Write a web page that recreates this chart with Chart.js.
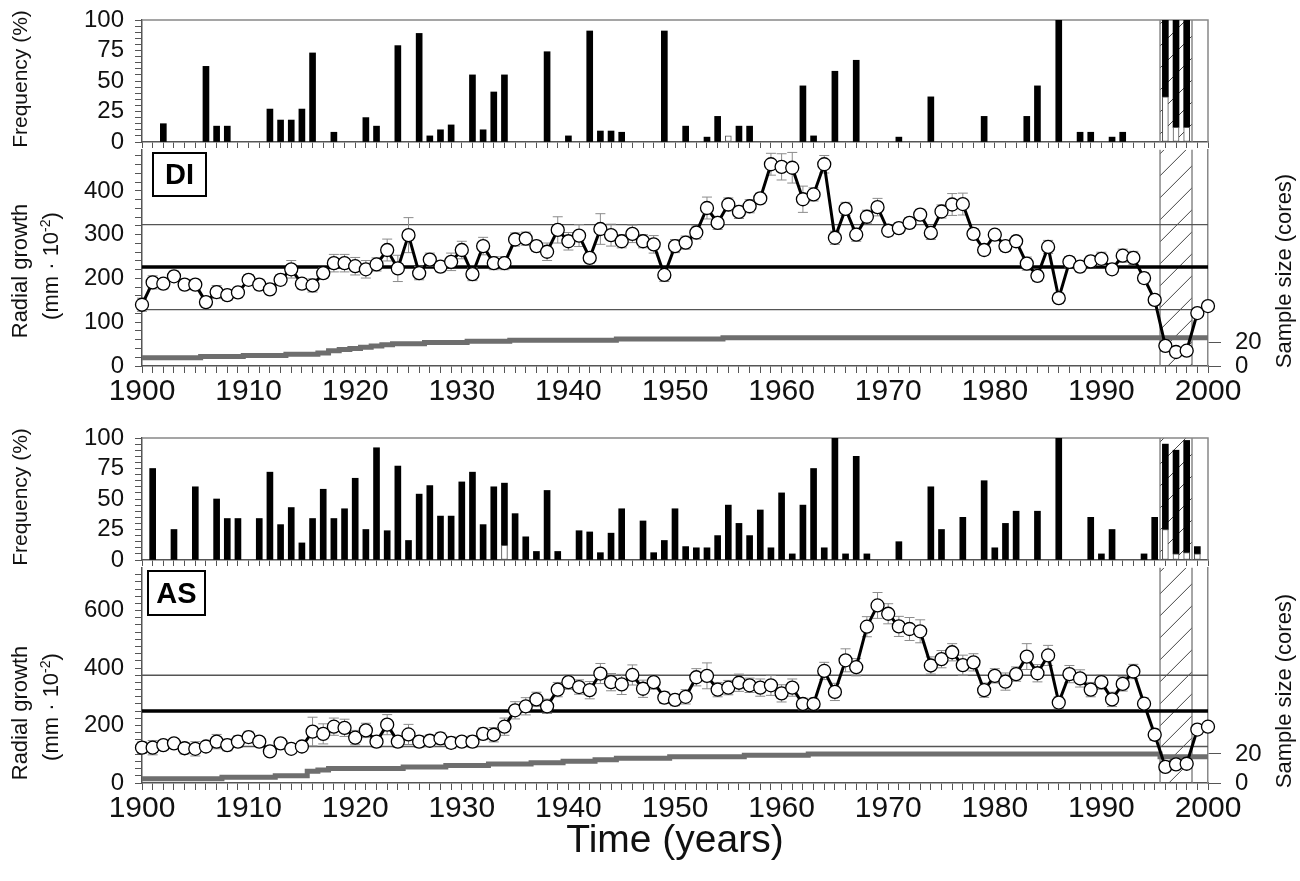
<!DOCTYPE html>
<html>
<head>
<meta charset="utf-8">
<script src="https://cdn.jsdelivr.net/npm/chart.js@4.4.1/dist/chart.umd.min.js"></script>
<style>
html,body{margin:0;padding:0;background:#fff;}
body{width:1300px;height:881px;position:relative;overflow:hidden;font-family:"Liberation Sans",Arial,Helvetica,sans-serif;color:#111;}
canvas{position:absolute;left:0;}
.yt{position:absolute;white-space:nowrap;font-size:21px;line-height:1;transform:translate(-50%,-50%) rotate(-90deg);}
.yt sup{font-size:14px;vertical-align:8px;line-height:0;}
.box{position:absolute;border:2px solid #000;font-weight:bold;font-size:29px;text-align:center;box-sizing:border-box;color:#000;}
.xt{position:absolute;white-space:nowrap;font-size:39px;line-height:1;transform:translate(-50%,-50%);}
</style>
</head>
<body>
<canvas id="c1" width="1300" height="150" style="top:0px"></canvas>
<canvas id="c2" width="1300" height="268" style="top:142px"></canvas>
<canvas id="c3" width="1300" height="150" style="top:418px"></canvas>
<canvas id="c4" width="1300" height="321" style="top:560px"></canvas>

<div class="yt" style="left:19px;top:79px">Frequency (%)</div>
<div class="yt" style="left:20px;top:271px;font-size:22px">Radial growth</div>
<div class="yt" style="left:51px;top:266px;font-size:22px">(mm · 10<sup>-2</sup>)</div>
<div class="yt" style="left:1284px;top:271px;font-size:22px">Sample size (cores)</div>

<div class="yt" style="left:19px;top:497px">Frequency (%)</div>
<div class="yt" style="left:20px;top:713px;font-size:22px">Radial growth</div>
<div class="yt" style="left:51px;top:707px;font-size:22px">(mm · 10<sup>-2</sup>)</div>
<div class="yt" style="left:1284px;top:691px;font-size:22px">Sample size (cores)</div>

<div class="xt" style="left:675px;top:838px">Time (years)</div>

<div class="box" style="left:152px;top:152px;width:55px;height:45px;line-height:41px">DI</div>
<div class="box" style="left:147px;top:570px;width:59px;height:46px;line-height:42px">AS</div>

<script>
// ---------------- DATA ----------------
const years = [1900,1901,1902,1903,1904,1905,1906,1907,1908,1909,
1910,1911,1912,1913,1914,1915,1916,1917,1918,1919,
1920,1921,1922,1923,1924,1925,1926,1927,1928,1929,
1930,1931,1932,1933,1934,1935,1936,1937,1938,1939,
1940,1941,1942,1943,1944,1945,1946,1947,1948,1949,
1950,1951,1952,1953,1954,1955,1956,1957,1958,1959,
1960,1961,1962,1963,1964,1965,1966,1967,1968,1969,
1970,1971,1972,1973,1974,1975,1976,1977,1978,1979,
1980,1981,1982,1983,1984,1985,1986,1987,1988,1989,
1990,1991,1992,1993,1994,1995,1996,1997,1998,1999,
2000];

const xTickLabels = [1900,1910,1920,1930,1940,1950,1960,1970,1980,1990,2000];

// DI frequency (%): black and open (white) parts
const diFreqBlack = [0,0,15,0,0,0,62,13,13,0,
0,0,27,18,18,27,73,0,8,0,
0,20,13,0,79,0,89,5,10,14,
0,55,10,41,55,0,0,0,74,0,
5,0,91,9,9,8,0,0,0,91,
0,13,0,4,21,0,13,13,0,0,
0,0,46,5,0,58,0,67,0,0,
0,4,0,0,37,0,0,0,0,21,
0,0,0,21,46,0,100,0,8,8,
0,4,8,0,0,0,63,88,88,0,
0];
const diFreqWhite = [0,0,0,0,0,0,0,0,0,0,
0,0,0,0,0,0,0,0,0,0,
0,0,0,0,0,0,0,0,0,0,
0,0,0,0,0,0,0,0,0,0,
0,0,0,0,0,0,0,0,0,0,
0,0,0,0,0,5,0,0,0,0,
0,0,0,0,0,0,0,0,0,0,
0,0,0,0,0,0,0,0,0,0,
0,0,0,0,0,0,0,0,0,0,
0,0,0,0,0,0,37,12,12,0,
0];

// DI radial growth (mm·10^-2), error, sample size
const diGrowth = [140,191,188,205,186,186,146,169,162,168,
197,186,175,197,221,188,184,212,235,235,
228,221,232,265,223,299,212,243,227,238,
265,210,274,235,235,289,291,274,261,311,
285,298,247,313,299,285,302,285,278,208,
274,282,305,361,327,369,352,365,383,461,
455,453,381,392,461,293,359,300,341,363,
309,315,327,346,304,353,369,370,302,265,
300,274,285,234,206,272,155,238,227,239,
245,221,252,247,201,151,46,32,35,121,
137];
const diErr = [15,15,12,12,12,12,12,15,12,12,
12,12,12,12,20,12,15,12,20,20,
20,20,15,25,30,40,15,15,12,20,
20,15,20,15,15,15,15,12,20,30,
20,25,12,35,25,15,20,15,20,15,
15,15,15,25,15,15,15,15,12,25,
30,35,30,15,20,15,15,15,15,20,
12,12,12,12,15,15,25,25,12,12,
12,12,12,15,12,15,12,12,12,12,
15,12,15,15,12,12,8,8,8,10,
10];
const diCores = [7,7,7,7,7,7,8,8,8,8,
9,9,9,9,10,10,10,11,13,14,
15,16,17,18,19,19,19,20,20,20,
20,21,21,21,21,22,22,22,22,22,
22,22,22,22,22,23,23,23,23,23,
23,23,23,23,23,24,24,24,24,24,
24,24,24,24,24,24,24,24,24,24,
24,24,24,24,24,24,24,24,24,24,
24,24,24,24,24,24,24,24,24,24,
24,24,24,24,24,24,24,24,24,24,
24];
const diRefLines = [129, 226, 323]; // mean - SD, mean, mean + SD

// AS frequency (%)
const asFreqBlack = [0,75,0,25,0,60,0,50,34,34,
0,34,72,29,43,14,34,58,34,42,
67,25,92,24,77,16,54,61,36,36,
64,72,29,60,51,38,19,7,57,7,
0,24,23,6,22,42,0,32,6,16,
42,11,10,10,20,45,30,20,41,10,
55,5,45,75,10,100,5,85,5,0,
0,15,0,0,60,25,0,35,0,65,
10,30,40,0,40,0,100,0,0,35,
5,25,0,0,5,35,70,85,92,6,
0];
const asFreqWhite = [0,0,0,0,0,0,0,0,0,0,
0,0,0,0,0,0,0,0,0,0,
0,0,0,0,0,0,0,0,0,0,
0,0,0,0,12,0,0,0,0,0,
0,0,0,0,0,0,0,0,0,0,
0,0,0,0,0,0,0,0,0,0,
0,0,0,0,0,0,0,0,0,0,
0,0,0,0,0,0,0,0,0,0,
0,0,0,0,0,0,0,0,0,0,
0,0,0,0,0,0,25,5,6,5,
0];

// AS radial growth, error, sample size
const asGrowth = [123,123,132,138,121,119,127,144,132,144,
160,144,110,138,119,127,179,171,196,192,
158,183,144,203,144,169,144,147,155,140,
144,144,171,168,196,253,267,291,267,325,
351,334,323,381,351,343,376,328,351,297,
289,300,368,373,325,332,349,340,332,340,
312,332,275,275,390,317,427,403,544,618,
589,545,536,528,409,431,455,410,420,323,
373,353,379,440,382,444,280,379,364,325,
351,291,345,388,276,168,56,65,67,186,
196];
const asErr = [20,25,15,15,20,25,15,25,20,20,
20,15,15,15,15,15,50,35,30,30,
25,25,20,35,20,35,20,20,20,20,
15,20,20,25,30,30,30,25,25,25,
25,25,30,35,30,35,35,30,25,20,
20,25,30,45,25,25,30,25,30,35,
30,30,20,20,30,30,40,30,35,45,
35,35,40,40,30,30,30,35,30,25,
25,30,25,45,30,35,20,30,30,25,
25,25,25,25,20,20,10,10,10,15,
15];
const asCores = [3,3,3,3,3,3,3,3,4,4,
4,4,4,5,5,5,8,9,10,10,
10,10,10,10,10,11,11,11,11,12,
12,12,12,13,13,13,13,14,14,14,
15,15,15,16,16,17,17,17,17,17,
18,18,18,18,18,18,18,19,19,19,
19,19,19,20,20,20,20,20,20,20,
20,20,20,20,20,20,20,20,20,20,
20,20,20,20,20,20,20,20,20,20,
20,20,20,20,20,20,18,18,18,18,
18];
const asRefLines = [127, 251, 375];

const hatchSpan = [1995.5, 1998.5];   // shaded (hatched) years
const coreTicks = [0, 20];

// ---------------- HELPERS ----------------
Chart.defaults.font.family = '"Liberation Sans", Arial, Helvetica, sans-serif';
Chart.defaults.color = '#111';

const pts = (vals) => years.map((yr, i) => ({x: yr, y: vals[i]}));
const barPts = (vals) => years.map((yr, i) => ({x: yr, y: vals[i] > 0 ? vals[i] : null}));
const hline = (v) => [{x: years[0], y: v}, {x: years[years.length - 1], y: v}];
function noPad(s) { s.paddingTop = 0; s.paddingBottom = 0; s.paddingLeft = 0; s.paddingRight = 0; }

const decor = {
  id: 'decor',
  beforeDatasetsDraw(chart, args, opts) {
    const {ctx, chartArea: a, scales} = chart;
    const x = scales.x;
    if (opts.hatch) {
      const x0 = x.getPixelForValue(opts.hatch[0]);
      const x1 = x.getPixelForValue(opts.hatch[1]);
      ctx.save();
      ctx.beginPath();
      ctx.rect(x0, a.top, x1 - x0, a.bottom - a.top);
      ctx.clip();
      ctx.strokeStyle = '#444';
      ctx.lineWidth = 1;
      ctx.beginPath();
      const h = a.bottom - a.top;
      for (let s = x0 - h - 40; s < x1 + 40; s += 22) {
        ctx.moveTo(s, a.bottom);
        ctx.lineTo(s + h, a.top);
      }
      ctx.stroke();
      ctx.restore();
      ctx.save();
      ctx.strokeStyle = '#777';
      ctx.lineWidth = 1.3;
      ctx.beginPath();
      ctx.moveTo(x0, a.top); ctx.lineTo(x0, a.bottom);
      ctx.moveTo(x1, a.top); ctx.lineTo(x1, a.bottom);
      ctx.stroke();
      ctx.restore();
    }
    if (opts.frame) {
      ctx.save();
      ctx.strokeStyle = '#888';
      ctx.lineWidth = 1.5;
      ctx.beginPath();
      ctx.moveTo(a.left, a.top); ctx.lineTo(a.right, a.top);
      ctx.lineTo(a.right, a.bottom);
      ctx.stroke();
      ctx.restore();
    }
  },
  beforeDatasetDraw(chart, args, opts) {
    if (!opts.errs || args.index !== 0) return;
    const {ctx} = chart;
    const ys = chart.scales.y;
    const meta = chart.getDatasetMeta(0);
    const d = chart.data.datasets[0].data;
    ctx.save();
    ctx.strokeStyle = '#8c8c8c';
    ctx.lineWidth = 1;
    ctx.beginPath();
    meta.data.forEach((p, i) => {
      const v = d[i].y, e = opts.errs[i];
      const t = ys.getPixelForValue(v + e), b = ys.getPixelForValue(v - e);
      ctx.moveTo(p.x, t); ctx.lineTo(p.x, b);
      ctx.moveTo(p.x - 5, t); ctx.lineTo(p.x + 5, t);
      ctx.moveTo(p.x - 5, b); ctx.lineTo(p.x + 5, b);
    });
    ctx.stroke();
    ctx.restore();
  }
};

function freqChart(id, white, black) {
  return new Chart(document.getElementById(id), {
    type: 'bar',
    data: {datasets: [
      {data: barPts(white), backgroundColor: '#fff', borderColor: '#555', borderWidth: 1, borderSkipped: false, barThickness: 6},
      {data: barPts(black), backgroundColor: '#000', borderWidth: 0, barThickness: 6}
    ]},
    options: {
      responsive: false, animation: false, events: [], devicePixelRatio: 1,
      layout: {padding: {top: 20, right: 92, left: 0, bottom: 0}},
      plugins: {legend: {display: false}, tooltip: {enabled: false}, decor: {hatch: hatchSpan, frame: true}},
      scales: {
        x: {type: 'linear', min: 1900, max: 2000, offset: false, stacked: true,
            grid: {drawOnChartArea: false, tickLength: 6, tickColor: '#555', offset: false},
            border: {color: '#555', width: 1.5},
            ticks: {stepSize: 1, autoSkip: false, maxRotation: 0, padding: 0, font: {size: 1}, callback: () => ''},
            afterFit(s) { s.height = 8; noPad(s); }},
        y: {min: 0, max: 100, stacked: true,
            grid: {drawOnChartArea: false, tickLength: 7, tickColor: '#555'},
            border: {color: '#555', width: 1.5},
            ticks: {stepSize: 5, autoSkip: false, padding: 11, font: {size: 24}, color: '#111',
                    callback: v => (v % 25 === 0 ? v : '')},
            afterFit(s) { s.width = 142; noPad(s); }}
      }
    },
    plugins: [decor]
  });
}

function growthChart(id, vals, errs, cores, refs, yMax, yStep, yMajor, y2Max, xHeight) {
  return new Chart(document.getElementById(id), {
    type: 'line',
    data: {datasets: [
      {data: pts(vals), yAxisID: 'y', borderColor: '#000', borderWidth: 3, tension: 0,
       pointRadius: 6.5, pointBackgroundColor: '#fff', pointBorderColor: '#000', pointBorderWidth: 1.3, clip: false},
      {data: pts(cores), yAxisID: 'y2', borderColor: '#6e6e6e', borderWidth: 5, pointRadius: 0, stepped: 'middle'},
      {data: hline(refs[1]), yAxisID: 'y', borderColor: '#000', borderWidth: 3.5, pointRadius: 0},
      {data: hline(refs[0]), yAxisID: 'y', borderColor: '#555', borderWidth: 1.3, pointRadius: 0},
      {data: hline(refs[2]), yAxisID: 'y', borderColor: '#555', borderWidth: 1.3, pointRadius: 0}
    ]},
    options: {
      responsive: false, animation: false, events: [], devicePixelRatio: 1,
      layout: {padding: 0},
      plugins: {legend: {display: false}, tooltip: {enabled: false}, decor: {hatch: hatchSpan, errs: errs}},
      scales: {
        x: {type: 'linear', min: 1900, max: 2000, offset: false,
            grid: {drawOnChartArea: false, tickLength: 7, tickColor: '#555', offset: false},
            border: {color: '#555', width: 1.5},
            ticks: {stepSize: 1, autoSkip: false, maxRotation: 0, minRotation: 0, padding: 1,
                    font: {size: 30}, color: '#111',
                    callback: v => (xTickLabels.includes(v) ? String(v) : '')},
            afterFit(s) { s.height = xHeight; noPad(s); }},
        y: {min: 0, max: yMax, position: 'left',
            grid: {drawOnChartArea: false, tickLength: 7, tickColor: '#555'},
            border: {color: '#555', width: 1.5},
            ticks: {stepSize: yStep, includeBounds: false, autoSkip: false, padding: 11, font: {size: 24}, color: '#111',
                    callback: v => (v % yMajor === 0 ? v : '')},
            afterFit(s) { s.width = 142; noPad(s); }},
        y2: {min: 0, max: y2Max, position: 'right',
             grid: {drawOnChartArea: false, tickLength: 13, tickColor: '#555'},
             border: {color: '#888', width: 1.5},
             ticks: {autoSkip: false, padding: 14, font: {size: 24}, color: '#111'},
             afterBuildTicks(s) { s.ticks = coreTicks.map(v => ({value: v})); },
             afterFit(s) { s.width = 92; noPad(s); }}
      }
    },
    plugins: [decor]
  });
}

freqChart('c1', diFreqWhite, diFreqBlack);
growthChart('c2', diGrowth, diErr, diCores, diRefLines, 494, 20, 100, 184, 44);
freqChart('c3', asFreqWhite, asFreqBlack);
growthChart('c4', asGrowth, asErr, asCores, asRefLines, 749, 25, 200, 148, 98);
</script>
</body>
</html>
